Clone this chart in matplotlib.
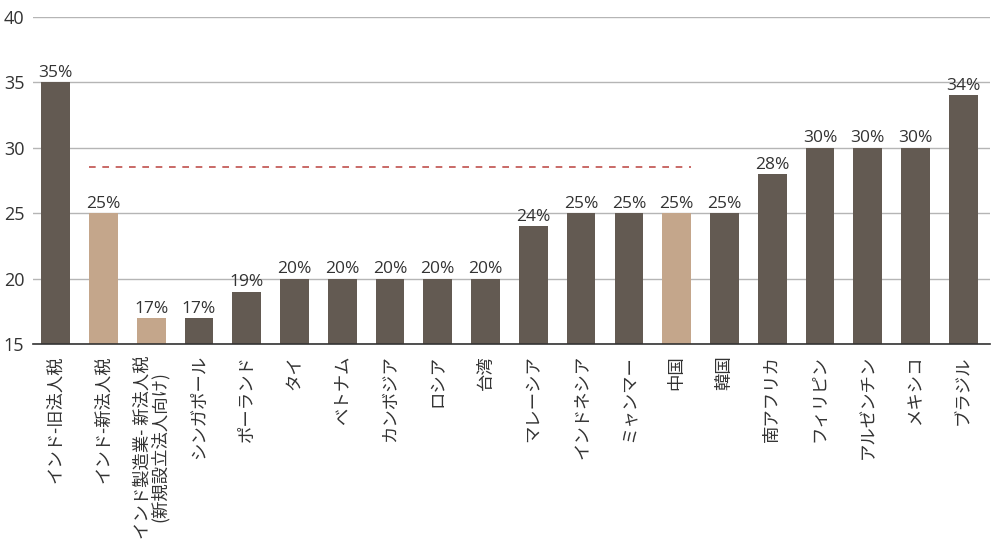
import matplotlib
matplotlib.use("Agg")
import matplotlib.pyplot as plt

plt.rcParams['font.family'] = ['Noto Sans CJK JP', 'DejaVu Sans']
num_font = ['Open Sans', 'Noto Sans CJK JP']

# corporate tax rates (%)
countries = ["インド-旧法人税", "インド-新法人税", "インド製造業- 新法人税\n(新規設立法人向け)",
             "シンガポール", "ポーランド", "タイ", "ベトナム", "カンボジア", "ロシア", "台湾",
             "マレーシア", "インドネシア", "ミャンマー", "中国", "韓国", "南アフリカ",
             "フィリピン", "アルゼンチン", "メキシコ", "ブラジル"]
rates = [35, 25, 17, 17, 19, 20, 20, 20, 20, 20, 24, 25, 25, 25, 25, 28, 30, 30, 30, 34]
highlight = [1, 2, 13]
avg_rate = 28.5

dark = "#635a52"
light = "#c4a68b"
colors = [light if i in highlight else dark for i in range(len(rates))]

fig = plt.figure(figsize=(9.91, 5.41), dpi=100)
ax = fig.add_axes([0.033, 0.364, 0.966, 0.605])

x = list(range(len(rates)))
ax.bar(x, [r - 15 for r in rates], bottom=15, width=0.6, color=colors, zorder=3)

for xi, r in zip(x, rates):
    ax.text(xi, r + 0.1, f"{r}%", ha="center", va="bottom", fontsize=12.5,
            color="#333333", family=num_font)

# average line
ax.hlines(avg_rate, 0.7, 13.3, colors="#c0504d", linestyles=(0, (4, 4)), linewidth=1.2, zorder=4)

ax.set_ylim(15, 40)
ax.set_xlim(-0.48, len(rates) - 0.44)
ax.set_yticks([15, 20, 25, 30, 35, 40])
ax.yaxis.grid(True, color="#b5b5b5", linewidth=1, zorder=0)
ax.set_axisbelow(True)
for s in ["top", "right", "left"]:
    ax.spines[s].set_visible(False)
ax.spines["bottom"].set_color("#333333")
ax.spines["bottom"].set_linewidth(1.2)
ax.spines["bottom"].set_zorder(5)

ax.set_xticks(x)
ax.set_xticklabels(countries, rotation=90, fontsize=12.5, color="#333333",
                   va="top", ha="center", linespacing=0.95)
ax.tick_params(axis="x", length=0, pad=8)
ax.tick_params(axis="y", length=0, labelsize=13, labelcolor="#333333", pad=6)
for lbl in ax.get_yticklabels():
    lbl.set_family(num_font)

fig.savefig("out.png", dpi=100)
